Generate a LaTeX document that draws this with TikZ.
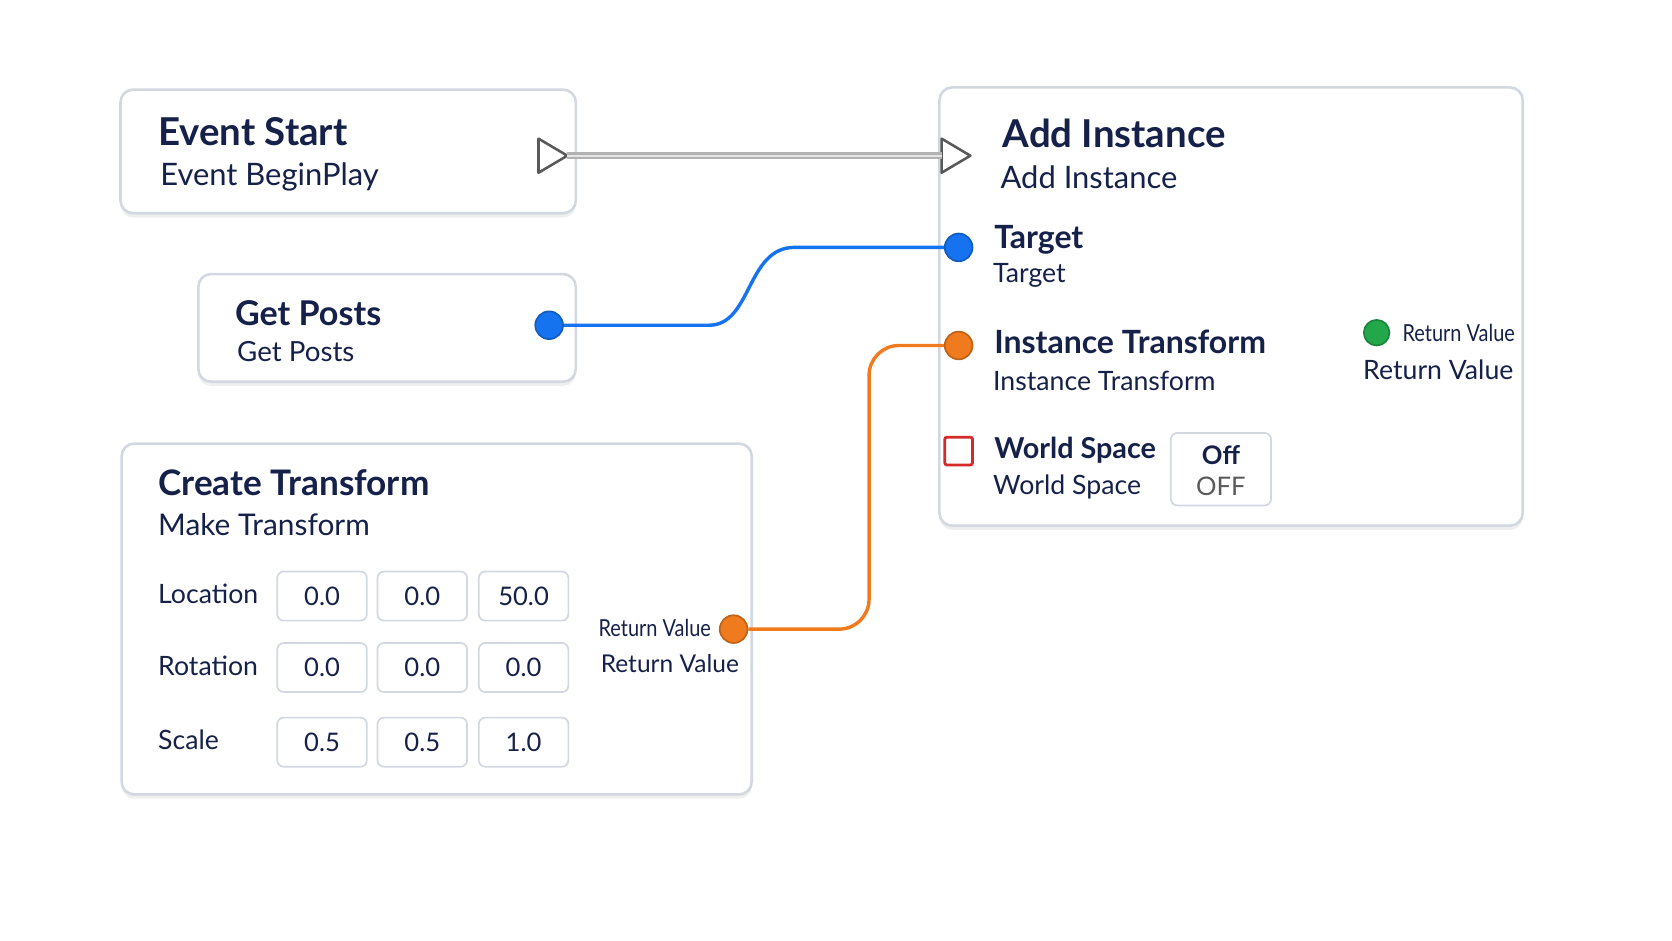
\documentclass[tikz,border=0pt]{standalone}
\usepackage{fontspec}
\setmainfont{Lato}
\usetikzlibrary{shadows}
\definecolor{ink}{HTML}{16214A}
\definecolor{edge}{HTML}{D3D8E0}
\definecolor{pinblue}{HTML}{1673F0}
\definecolor{pinorange}{HTML}{F07B1E}
\definecolor{pingreen}{HTML}{22A84A}
\definecolor{pinred}{HTML}{D62A2A}
\tikzset{
  card/.style={draw=edge,line width=1.2pt,rounded corners=6pt,fill=white,
    drop shadow={shadow xshift=0pt,shadow yshift=-2pt,opacity=0.12}},
  title/.style={anchor=west,inner sep=0pt,text=ink,font=\fontsize{18}{21}\selectfont\bfseries},
  sub/.style={anchor=west,inner sep=0pt,text=ink,font=\fontsize{14.5}{17}\selectfont},
  lbl/.style={anchor=west,inner sep=0pt,text=ink,font=\fontsize{12.5}{15}\selectfont},
  small/.style={anchor=west,inner sep=0pt,text=ink,xscale=0.85,font=\fontsize{11}{13}\selectfont},
  field/.style={draw=edge,line width=0.8pt,rounded corners=3pt,fill=white,
    minimum width=42pt,minimum height=23pt,text=ink,font=\fontsize{12}{14}\selectfont},
  pin/.style={circle,draw=#1!80!black,fill=#1,line width=0.8pt,minimum size=13pt,inner sep=0pt},
  exec/.style={draw=gray!70!black,line width=1.2pt,fill=white,line join=round},
  wire/.style={line width=1.6pt,rounded corners=14pt}
}
\begin{document}
\begin{tikzpicture}[x=0.5pt,y=-0.5pt]
\useasboundingbox[fill=white] (0,0) rectangle (1568,882);
% cards
\draw[card] (113,84) rectangle (540,200);
\draw[card] (881,82) rectangle (1428,493);
\draw[card] (186,257) rectangle (540,358);
\draw[card] (114,416) rectangle (705,745);
% event start
\node[title] (evt) at (148,123) {Event Start};
\node[sub] (evtsub) at (150,166) {Event BeginPlay};
\coordinate (execout) at (532,146);
\draw[exec] (505,130) -- (532,146) -- (505,162) -- cycle;
% add instance
\node[title] (add) at (940,125) {Add Instance};
\node[sub] (addsub) at (938,166) {Add Instance};
\coordinate (execin) at (883,146);
\draw[exec] (883,130) -- (910,146) -- (883,162) -- cycle;
\draw[gray!60,line width=3pt] (execout) -- (execin);
\draw[gray!20,line width=1pt] (execout) -- (execin);
\node[pin=pinblue] (target) at (899,232) {};
\node[title,font=\fontsize{15}{17}\selectfont\bfseries] at (932,225) {Target};
\node[lbl] at (931,258) {Target};
\node[pin=pinorange] (xform) at (899,324) {};
\node[title,font=\fontsize{15}{17}\selectfont\bfseries] at (932,321) {Instance Transform};
\node[lbl] at (931,357) {Instance Transform};
\node[pin=pingreen,minimum size=12pt] (ret) at (1291,312) {};
\node[small] at (1315,312) {Return Value};
\node[lbl] at (1278,347) {Return Value};
\node[draw=pinred,line width=1.3pt,fill=white,minimum size=13pt,inner sep=0pt,rounded corners=1pt] (world) at (899,423) {};
\node[title,font=\fontsize{13.5}{15}\selectfont\bfseries] at (932,422) {World Space};
\node[lbl] at (931,457) {World Space};
\node[field,minimum width=47pt,minimum height=34pt] (off) at (1145,440) {};
\node[text=ink,font=\fontsize{12}{14}\selectfont\bfseries] at (1145,427) {Off};
\node[text=gray!70!black,font=\fontsize{12}{14}\selectfont] at (1145,456) {OFF};
% get posts
\node[title,font=\fontsize{16}{18}\selectfont\bfseries] (gp) at (220,294) {Get Posts};
\node[lbl,font=\fontsize{13}{15}\selectfont] (gpsub) at (222,330) {Get Posts};
\node[pin=pinblue] (posts) at (515,305) {};
% create transform
\node[title,font=\fontsize{16.5}{18}\selectfont\bfseries] (ct) at (148,453) {Create Transform};
\node[sub,font=\fontsize{14}{16}\selectfont] (ctsub) at (148,492) {Make Transform};
\foreach \row/\y/\a/\b/\c in {Location/559/0.0/0.0/50.0, Rotation/626/0.0/0.0/0.0, Scale/696/0.5/0.5/1.0}{
  \node[lbl] at (148,\y-2) {\row};
  \node[field] at (302,\y) {\a};
  \node[field] at (396,\y) {\b};
  \node[field] at (491,\y) {\c};
}
\node[small] at (561,589) {Return Value};
\node[lbl,font=\fontsize{11.5}{14}\selectfont] at (563,622) {Return Value};
\node[pin=pinorange] (mkret) at (688,590) {};
% wires
\draw[pinblue,line width=1.6pt] (posts) -- (665,305) .. controls (705,305) and (700,232) .. (745,232) -- (target);
\draw[pinorange,wire] (mkret) -- (815,590) -- (815,324) -- (xform);
\end{tikzpicture}
\end{document}
